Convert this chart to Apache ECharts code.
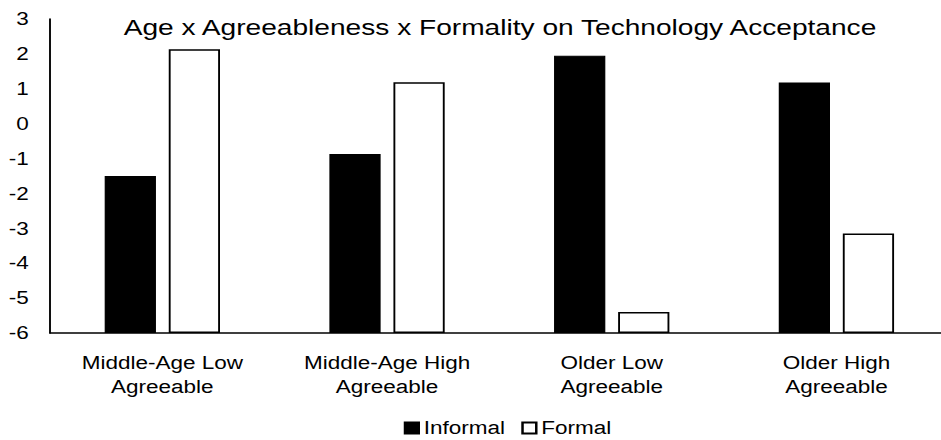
<!DOCTYPE html>
<html>
<head>
<meta charset="utf-8">
<script src="https://cdn.jsdelivr.net/npm/echarts@6.0.0/dist/echarts.min.js"></script>
<style>
    html, body { margin: 0; padding: 0; background: #fff; overflow: hidden; }
    /* the original picture is stretched sideways, so the chart is drawn narrower and scaled */
    #bar-chart { width: 753px; height: 440px; transform: scaleX(1.25); transform-origin: 0 0; }
</style>
</head>
<body>
<div id="bar-chart"></div>
<script>
var categories = ['Middle-Age Low\nAgreeable', 'Middle-Age High\nAgreeable', 'Older Low\nAgreeable', 'Older High\nAgreeable'];
var informal = [-1.5, -0.87, 1.95, 1.18];
var formal = [2.13, 1.19, -5.4, -3.15];
var axisMin = -6;
var axisMax = 3;

// bars start at the bottom of the axis (-6), so values are shifted by axisMin
function shift(arr){
    return arr.map(function (v) { return +(v - axisMin).toFixed(3); });
}

function initBarChart(){
    var chart = echarts.init(document.getElementById('bar-chart'), null, { renderer: 'svg' });
    var font = '"Liberation Sans", Arial, sans-serif';
    var option = {
        animation: false,
        textStyle: { fontFamily: font, color: '#000' },
        title: {
            text: 'Age x Agreeableness x Formality on Technology Acceptance',
            left: 395,
            top: 11,
            textAlign: 'center',
            textStyle: { fontFamily: font, fontSize: 22.5, fontWeight: 'normal', color: '#000' }
        },
        legend: {
            left: 318,
            top: 414,
            icon: 'rect',
            itemWidth: 11,
            itemHeight: 11,
            itemGap: 13,
            textStyle: { fontFamily: font, fontSize: 18, color: '#000', padding: [0, 0, 0, -1] },
            data: ['Informal', 'Formal']
        },
        grid: {
            left: 40,
            right: -6,
            top: 19,
            bottom: 107,
            outerBoundsMode: 'none'
        },
        xAxis: {
            type: 'category',
            data: categories,
            axisLine: { lineStyle: { color: '#000', width: 1.5 } },
            axisTick: { show: false },
            axisLabel: { interval: 0, fontFamily: font, fontSize: 18, lineHeight: 24, margin: 18, color: '#000' }
        },
        yAxis: {
            type: 'value',
            min: 0,
            max: axisMax - axisMin,
            interval: 1,
            axisLine: { show: true, lineStyle: { color: '#000', width: 1.5 } },
            axisTick: { show: false },
            splitLine: { show: false },
            axisLabel: {
                fontFamily: font, fontSize: 18, margin: 17, color: '#000',
                formatter: function (v) { return String(v + axisMin); }
            }
        },
        series: [{
            name: 'Informal',
            type: 'bar',
            barWidth: 41,
            barGap: '25%',
            itemStyle: { color: '#000', borderColor: '#000', borderWidth: 1 },
            data: shift(informal)
        }, {
            name: 'Formal',
            type: 'bar',
            barWidth: 41,
            barGap: '25%',
            itemStyle: { color: '#fff', borderColor: '#000', borderWidth: 1.5 },
            data: shift(formal)
        }]
    };
    chart.setOption(option);
}

initBarChart();
</script>
</body>
</html>
